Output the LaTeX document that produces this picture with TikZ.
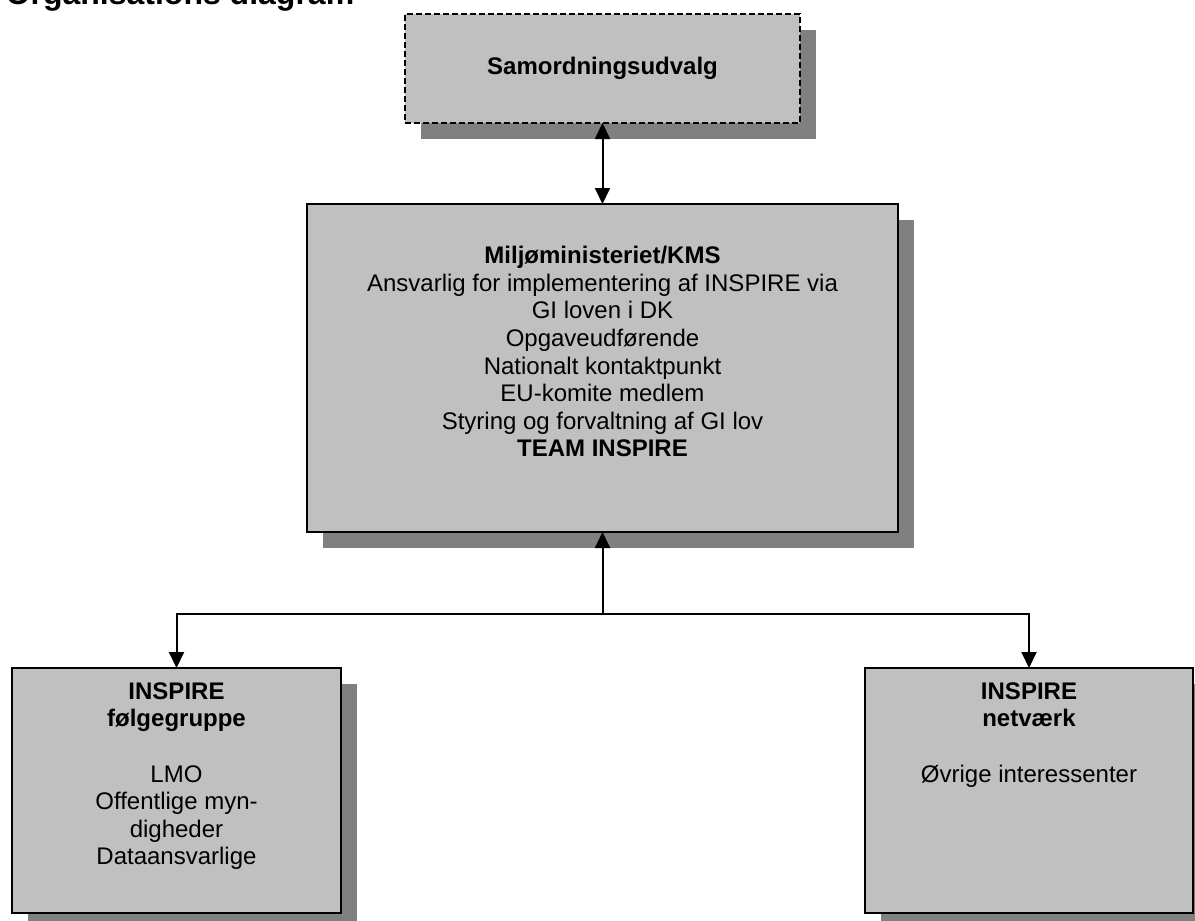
\documentclass[tikz,border=0pt]{standalone}
\usepackage{fontspec}
\setmainfont{Liberation Sans}
\usetikzlibrary{arrows.meta,shadows}
\definecolor{boxgray}{RGB}{192,192,192}
\definecolor{shadegray}{RGB}{128,128,128}
\begin{document}
\begin{tikzpicture}[x=1pt,y=-1pt,
  box/.style={draw=black, line width=2pt, fill=boxgray, rectangle, inner sep=0pt, outer sep=0pt,
     drop shadow={shadow xshift=16pt, shadow yshift=-16pt, fill=shadegray, opacity=1}},
  dashedbox/.style={box, dash pattern=on 6pt off 3pt},
  txt/.style={font=\fontsize{24}{27.6}\selectfont, align=center, inner sep=0pt, text=black},
  conn/.style={line width=2pt, draw=black},
  tip/.style={-{Triangle[width=15pt,length=16pt]}}
]
\useasboundingbox (0,0) rectangle (1195,921);

% title (cut at the top edge)
\node[anchor=base west, inner sep=0pt, font=\fontsize{32}{38}\selectfont\bfseries] (title) at (5.5,4.5) {Organisations diagram};

% boxes
\node[dashedbox, minimum width=395pt, minimum height=109pt] (sam) at (602.5,68.5) {};
\node[box, minimum width=591pt, minimum height=328pt] (main) at (602.5,368) {};
\node[box, minimum width=329pt, minimum height=245pt] (left) at (176.5,790.5) {};
\node[box, minimum width=328pt, minimum height=245pt] (right) at (1029,790.5) {};

% texts
\node[txt, font=\fontsize{24}{27.6}\selectfont\bfseries, anchor=base] (samtext) at (602.5,74) {Samordningsudvalg};
\node[txt, anchor=north] (maintext) at (602.5,244.2) {\strut\textbf{Miljøministeriet/KMS}\\
  Ansvarlig for implementering af INSPIRE via\\
  GI loven i DK\\
  Opgaveudførende\\
  Nationalt kontaktpunkt\\
  EU-komite medlem\\
  Styring og forvaltning af GI lov\\
  \textbf{TEAM INSPIRE}};
\node[txt, anchor=north] (lefttext) at (176.5,679.7) {\strut\textbf{INSPIRE}\\
  \textbf{følgegruppe}\\[27.6pt]
  LMO\\
  Offentlige myn-\\
  digheder\\
  Dataansvarlige};
\node[txt, anchor=north] (righttext) at (1029,679.7) {\strut\textbf{INSPIRE}\\
  \textbf{netværk}\\[27.6pt]
  Øvrige interessenter};

% connectors
\coordinate (junction) at (602.5,614);
\draw[conn, {Triangle[width=15pt,length=16pt]}-{Triangle[width=15pt,length=16pt]}] (sam.south) -- (main.north);
\draw[conn, tip] (junction) -- (main.south);
\draw[conn, tip] (junction) -| (left.north);
\draw[conn, tip] (junction) -| (right.north);
\end{tikzpicture}
\end{document}
